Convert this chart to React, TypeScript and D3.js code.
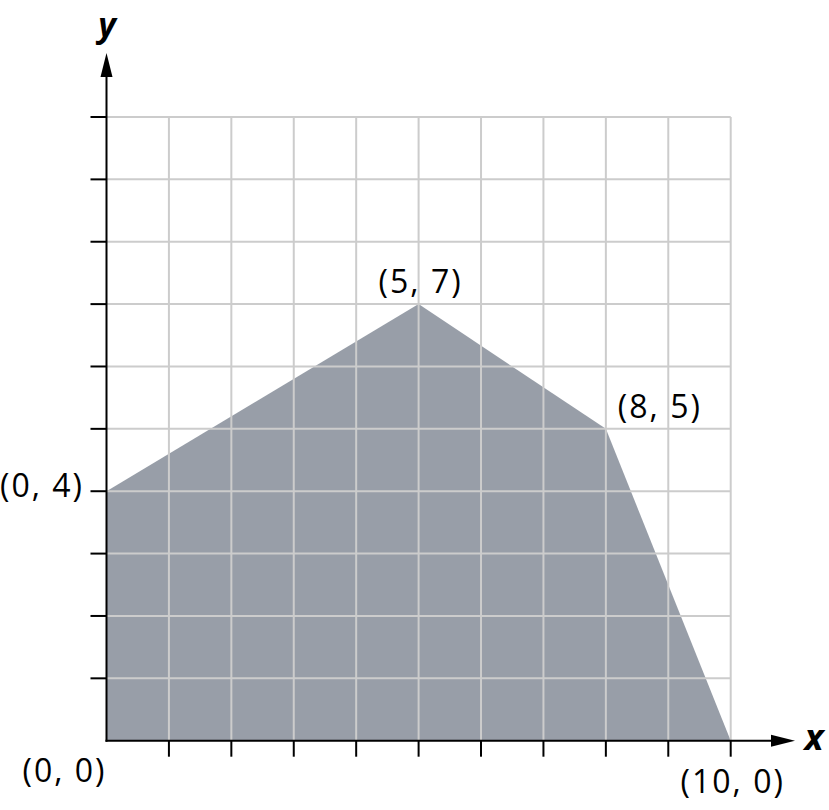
import React from "react";
import * as d3 from "d3";

const vertices: [number, number][] = [
  [0, 0],
  [0, 4],
  [5, 7],
  [8, 5],
  [10, 0],
];
const pointLabels = ["(0, 0)", "(0, 4)", "(5, 7)", "(8, 5)", "(10, 0)"];
const gridTicks = [1, 2, 3, 4, 5, 6, 7, 8, 9, 10];

const W = 829;
const H = 810;

export default function App() {
  const x = d3.scaleLinear().domain([0, 10]).range([106.5, 730.7]);
  const y = d3.scaleLinear().domain([0, 10]).range([740.7, 117]);
  const area = d3
    .line<[number, number]>()
    .x((d) => x(d[0]))
    .y((d) => y(d[1]));
  const poly = area(vertices) + "Z";

  const font = "'Open Sans', sans-serif";
  const labelPos: { dx: number; dy: number; anchor: string }[] = [
    { dx: 0, dy: 41, anchor: "end" },
    { dx: -22.5, dy: 6, anchor: "end" },
    { dx: 2, dy: -11, anchor: "middle" },
    { dx: 12, dy: -11, anchor: "start" },
    { dx: 2, dy: 52, anchor: "middle" },
  ];

  return (
    <svg
      width={W}
      height={H}
      style={{ position: "absolute", left: 0, top: 0, background: "#fff" }}
    >
      <rect x={0} y={0} width={W} height={H} fill="#fff" />
      <path d={poly} fill="#989ea8" />
      <g stroke="#cccccc" strokeWidth={2}>
        {gridTicks.map((t) => (
          <line key={"v" + t} x1={x(t)} x2={x(t)} y1={y(0)} y2={y(10)} />
        ))}
        {gridTicks.map((t) => (
          <line key={"h" + t} x1={x(0)} x2={x(10)} y1={y(t)} y2={y(t)} />
        ))}
      </g>
      <g stroke="#000" strokeWidth={2}>
        {gridTicks.map((t) => (
          <line key={"tx" + t} x1={x(t)} x2={x(t)} y1={y(0)} y2={y(0) + 16} />
        ))}
        {gridTicks.map((t) => (
          <line key={"ty" + t} x1={x(0) - 16} x2={x(0)} y1={y(t)} y2={y(t)} />
        ))}
        <line x1={x(0)} x2={x(0)} y1={y(0) + 1} y2={74} />
        <line x1={x(0) - 1} x2={773} y1={y(0)} y2={y(0)} />
      </g>
      <path
        d={`M${x(0)},53 L${x(0) + 6},77 L${x(0) - 6},77 Z`}
        fill="#000"
      />
      <path
        d={`M795,${y(0)} L771,${y(0) - 6} L771,${y(0) + 6} Z`}
        fill="#000"
      />
      <text
        x={107}
        y={37}
        fontFamily={font}
        fontWeight={700}
        fontStyle="italic"
        fontSize={34}
        textAnchor="middle"
      >
        y
      </text>
      <text
        x={814}
        y={750}
        fontFamily={font}
        fontWeight={700}
        fontStyle="italic"
        fontSize={36}
        textAnchor="middle"
      >
        x
      </text>
      {vertices.map((v, i) => (
        <text
          key={i}
          x={x(v[0]) + labelPos[i].dx}
          y={y(v[1]) + labelPos[i].dy}
          fontFamily={font}
          fontSize={32}
          letterSpacing={2}
          textAnchor={labelPos[i].anchor}
          fill="#000"
        >
          {pointLabels[i]}
        </text>
      ))}
    </svg>
  );
}
